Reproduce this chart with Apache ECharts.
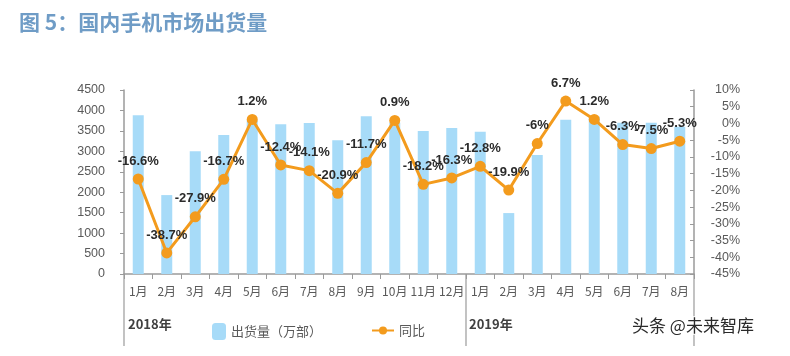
<!DOCTYPE html>
<html>
<head>
<meta charset="utf-8">
<script src="https://cdn.jsdelivr.net/npm/echarts@6/dist/echarts.min.js"></script>
<style>
html,body{margin:0;padding:0;background:#fff;}
#c{width:790px;height:356px;}
</style>
</head>
<body>
<div id="c"></div>
<script>
const categories = ['1月','2月','3月','4月','5月','6月','7月','8月','9月','10月','11月','12月','1月','2月','3月','4月','5月','6月','7月','8月'];
const shipments = [3880,1930,3000,3400,3760,3660,3690,3270,3860,3700,3500,3570,3480,1490,2910,3770,3850,3700,3700,3600];
const yoy = [-16.6,-38.7,-27.9,-16.7,1.2,-12.4,-14.1,-20.9,-11.7,0.9,-18.2,-16.3,-12.8,-19.9,-6,6.7,1.2,-6.3,-7.5,-5.3];
const yearLabels = ['2018年','2019年'];
const seriesNames = ['出货量（万部）','同比'];
const titleText = '图 5：国内手机市场出货量';
const watermark = '头条 @未来智库';

const CJK = '"Noto Sans CJK SC", "Liberation Sans", sans-serif';
const NUM = '"Liberation Sans", Arial, sans-serif';
const axisGray = '#595959';
const lineGray = '#9a9a9a';

const chart = echarts.init(document.getElementById('c'), null, {renderer:'canvas'});
chart.setOption({
  backgroundColor:'#fff',
  animation:false,
  title:{
    text:titleText, left:14, top:7,
    textStyle:{color:'#6f9cc6', fontSize:21, fontWeight:'bold', fontFamily:CJK}
  },
  legend:[
    {data:[seriesNames[0]], left:207, top:318, itemWidth:14, itemHeight:17, itemGap:8,
     textStyle:{color:axisGray, fontSize:13, fontFamily:CJK}},
    {data:[seriesNames[1]], left:366, top:319, itemWidth:22, itemHeight:10, itemGap:8,
     textStyle:{color:axisGray, fontSize:13, fontFamily:CJK}}
  ],
  grid:{left:124, right:96, top:90, bottom:82},
  xAxis:{
    type:'category', data:categories,
    axisLine:{lineStyle:{color:lineGray, width:1.5}},
    axisTick:{show:true, length:5, lineStyle:{color:lineGray}},
    axisLabel:{color:axisGray, fontSize:12, fontFamily:CJK, margin:11, interval:0}
  },
  yAxis:[
    {type:'value', min:0, max:4500, interval:500,
     axisLine:{show:true, lineStyle:{color:lineGray, width:1.5}},
     axisTick:{show:true, length:4, lineStyle:{color:lineGray}},
     splitLine:{show:false},
     axisLabel:{color:axisGray, fontSize:12.5, fontFamily:NUM, margin:19, formatter:v=>String(v)}},
    {type:'value', min:-45, max:10, interval:5, position:'right',
     axisLine:{show:true, lineStyle:{color:lineGray, width:1.5}},
     axisTick:{show:true, inside:true, length:4, lineStyle:{color:lineGray}},
     splitLine:{show:false},
     axisLabel:{color:axisGray, fontSize:12.5, fontFamily:NUM, margin:46, align:'right',
       formatter:v=>v+'%'}}
  ],
  series:[
    {name:seriesNames[0], type:'bar', data:shipments, barWidth:11,
     itemStyle:{color:'#a7dbf8'}},
    {name:seriesNames[1], type:'line', yAxisIndex:1, data:yoy,
     symbol:'circle', symbolSize:11,
     lineStyle:{color:'#f39b1d', width:3},
     itemStyle:{color:'#f39b1d'},
     label:{show:true, position:'top', distance:6, color:'#2b2b2b', fontSize:13, fontWeight:'bold',
       fontFamily:NUM, formatter:p=>p.value+'%'}}
  ],
  graphic:[
    {type:'line', shape:{x1:124,y1:274,x2:124,y2:346}, style:{stroke:lineGray, lineWidth:1.2}},
    {type:'line', shape:{x1:466,y1:274,x2:466,y2:346}, style:{stroke:lineGray, lineWidth:1.2}},
    {type:'line', shape:{x1:694,y1:274,x2:694,y2:346}, style:{stroke:lineGray, lineWidth:1.2}},
    {type:'text', left:128, top:318, style:{text:yearLabels[0], fill:'#404040', font:'bold 13px '+CJK}},
    {type:'text', left:469, top:318, style:{text:yearLabels[1], fill:'#404040', font:'bold 13px '+CJK}},
    {type:'text', left:631, top:316, style:{text:watermark, fill:'#2a2a2a', font:'17px '+CJK, stroke:'#fff', lineWidth:2}}
  ]
});
</script>
</body>
</html>
